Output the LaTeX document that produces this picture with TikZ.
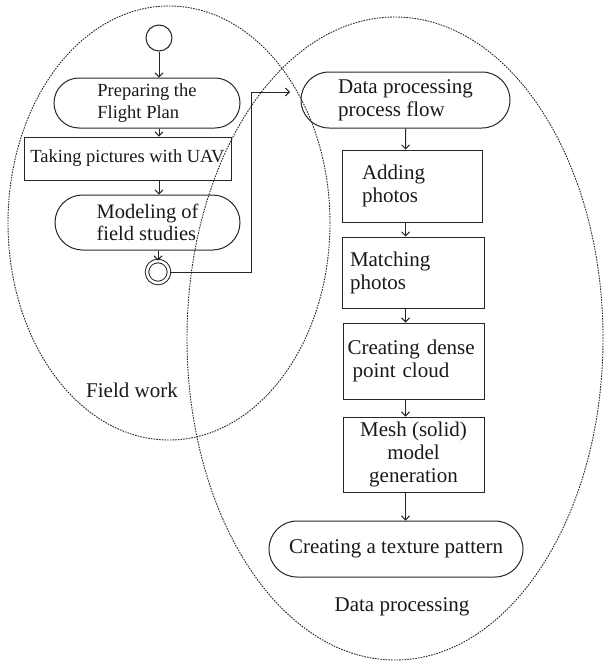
\documentclass[tikz,border=0pt]{standalone}
\usepackage{fontspec}
\setmainfont{Liberation Serif}
\usetikzlibrary{shapes.misc,arrows.meta}
\tikzset{
  every node/.style={font=\fontsize{21}{23}\selectfont,text=black!90},
  small/.style={font=\fontsize{18.5}{22}\selectfont},
  stadium/.style={rounded rectangle,draw=black!85,line width=1pt,inner sep=0pt},
  stepbox/.style={rectangle,draw=black!85,line width=1pt,inner sep=0pt},
  area/.style={draw=black!85,line width=.9pt,dash pattern=on 1.6pt off 1.1pt},
  flow/.style={draw=black!85,line width=1pt,->}
}
\begin{document}
\begin{tikzpicture}[x=1pt,y=-1pt,>={Straight Barb[length=4pt,width=8pt]}]
  \useasboundingbox (0,0) rectangle (605,664);
  % areas
  \draw [area](169,223) ellipse [x radius=161pt,y radius=217pt];
  \draw [area](395,338.5) ellipse [x radius=208pt,y radius=321.5pt];
  \node (fieldwork) at(132,390){Field work};
  \node (dataproc) at(402,607){Data processing};
  % field work
  \node [circle,draw=black!85,line width=1pt,minimum size=26pt,inner sep=0pt](start) at(159,38){};
  \node [stadium,small,align=left,minimum width=186pt,minimum height=50pt](plan) at(147,103){Preparing the\\Flight Plan};
  \node [stepbox,small,minimum width=207pt,minimum height=43pt](take) at(127.5,158.5){Taking pictures with UAV};
  \node [stadium,font=\fontsize{20.5}{22}\selectfont,align=left,minimum width=185pt,minimum height=55pt](model) at(147.5,222.5){Modeling of\\field studies};
  \node [circle,draw=black!85,line width=1pt,double,double distance=2.5pt,minimum size=22pt,inner sep=0pt](finish) at(158,272){};
  \draw [flow](start) -- (start |- plan.north);
  \draw [flow](plan.south -| start) -- (start |- take.north);
  \draw [flow](take.south -| start) -- (start |- model.north);
  \draw [flow](model.south -| finish) -- (finish);
  % link
  \coordinate (bend) at(251,92);
  \coordinate (tip) at(290,92);
  \draw [flow](finish.east) -| (bend) -- (tip);
  % data processing
  \node [stadium,align=left,minimum width=209pt,minimum height=56pt](flow) at(405.5,100){Data processing\\process flow};
  \node [stepbox,align=left,text width=100pt,minimum width=140pt,minimum height=72pt](add) at(412,186){Adding\\photos};
  \node [stepbox,align=left,text width=126pt,minimum width=142pt,minimum height=71pt](match) at(413,272.5){Matching\\photos};
  \node [stepbox,align=left,text width=132pt,minimum width=141pt,minimum height=76pt](dense) at(413.5,361){Creating dense\\\hspace{5pt}point cloud};
  \node [stepbox,align=center,minimum width=141pt,minimum height=75pt](mesh) at(413.5,454.5){Mesh (solid)\\model\\generation};
  \node [stadium,minimum width=254pt,minimum height=56pt](texture) at(396,549){Creating a texture pattern};
  \draw [flow](flow) -- (flow |- add.north);
  \draw [flow](add.south -| flow) -- (flow |- match.north);
  \draw [flow](match.south -| flow) -- (flow |- dense.north);
  \draw [flow](dense.south -| flow) -- (flow |- mesh.north);
  \draw [flow](mesh.south -| flow) -- (flow |- texture.north);
\end{tikzpicture}
\end{document}
